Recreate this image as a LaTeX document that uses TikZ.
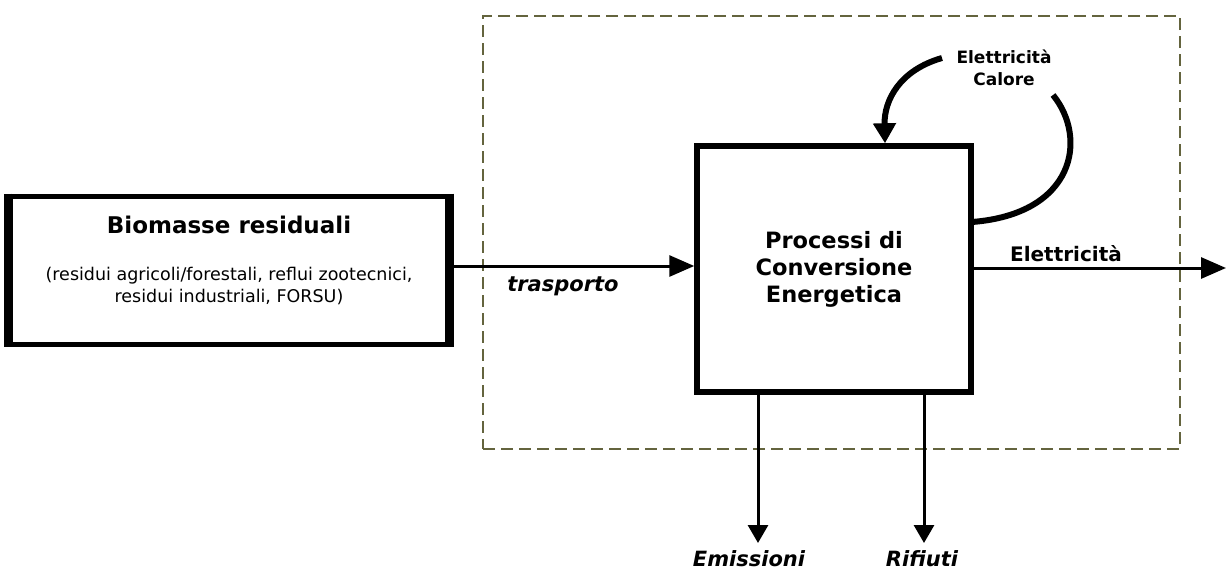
\documentclass[tikz,border=0pt]{standalone}
\usepackage{fontspec}
\setmainfont{DejaVu Sans}
\usepackage{tikz}
\usetikzlibrary{arrows.meta,positioning,calc}
\definecolor{frameolive}{RGB}{100,100,62}

\begin{document}
\begin{tikzpicture}[
    x=1pt, y=-1pt,
    block/.style={rectangle, draw=black, line width=5pt, fill=white, inner sep=0pt},
    frame/.style={draw=frameolive, line width=1.3pt, dash pattern=on 12pt off 6pt},
    flow/.style={-{Triangle[length=25pt,width=21pt]}, line width=3pt},
    outflow/.style={-{Triangle[length=18pt,width=20pt]}, line width=3pt},
    loop/.style={line width=6pt},
    title/.style={font=\fontsize{23}{27}\selectfont\bfseries},
    sub/.style={font=\fontsize{17.5}{22}\selectfont, align=center},
    lbl/.style={font=\fontsize{20}{24}\selectfont\bfseries},
    ilbl/.style={font=\fontsize{21}{25}\selectfont\bfseries\itshape}
]
    \useasboundingbox (0,0) rectangle (1226,571);

    % System boundary
    \node[frame, rectangle, minimum width=697pt, minimum height=433pt] (bound) at (831.5,232.5) {};

    % Blocks
    \node[block, minimum width=437pt, minimum height=148pt] (bio) at (228.5,270) {};
    \draw[line width=8pt] (bio.north west) -- (bio.south west);
    \draw[line width=8pt] (bio.north east) -- (bio.south east);
    \node[title] (biotitle) at (229,225) {Biomasse residuali};
    \node[sub] (biosub) at (229,286) {(residui agricoli/forestali, reflui zootecnici,\\residui industriali, FORSU)};

    \node[block, line width=5.5pt, minimum width=274pt, minimum height=246pt,
          font=\fontsize{22.5}{27}\selectfont\bfseries, align=center] (proc) at (834,269)
          {Processi di\\Conversione\\Energetica};

    % Input
    \draw[flow] ([yshift=4pt]bio.east) -- ([yshift=4pt]bio.east -| proc.west);
    \node[ilbl] (trasp) at (563,286) {trasporto};

    % Outputs
    \coordinate (elout) at (1226,268);
    \draw[flow] (proc.east |- elout) -- (elout);
    \node[lbl] (elet) at (1066,254) {Elettricità};

    \coordinate (emi) at (758,543);
    \coordinate (rif) at (924,543);
    \draw[outflow] (proc.south -| emi) -- (emi);
    \draw[outflow] (proc.south -| rif) -- (rif);
    \node[ilbl] (emilbl) at (749,559) {Emissioni};
    \node[ilbl] (riflbl) at (922,559) {Rifiuti};

    % Self supply loop
    \node[font=\fontsize{17}{22}\selectfont\bfseries, align=center] (selfl) at (1004,68) {Elettricità\\Calore};
    \coordinate (loopa) at (972,222);
    \coordinate (loopb) at (1053,95);
    \coordinate (loopc) at (942,58);
    \draw[loop] (loopa) .. controls (1075,214) and (1088,138) .. (loopb);
    \draw[loop, -{Triangle[length=20pt,width=22pt]}] (loopc) .. controls (900,70) and (884,100) .. (proc.north -| 885,0);
\end{tikzpicture}
\end{document}
